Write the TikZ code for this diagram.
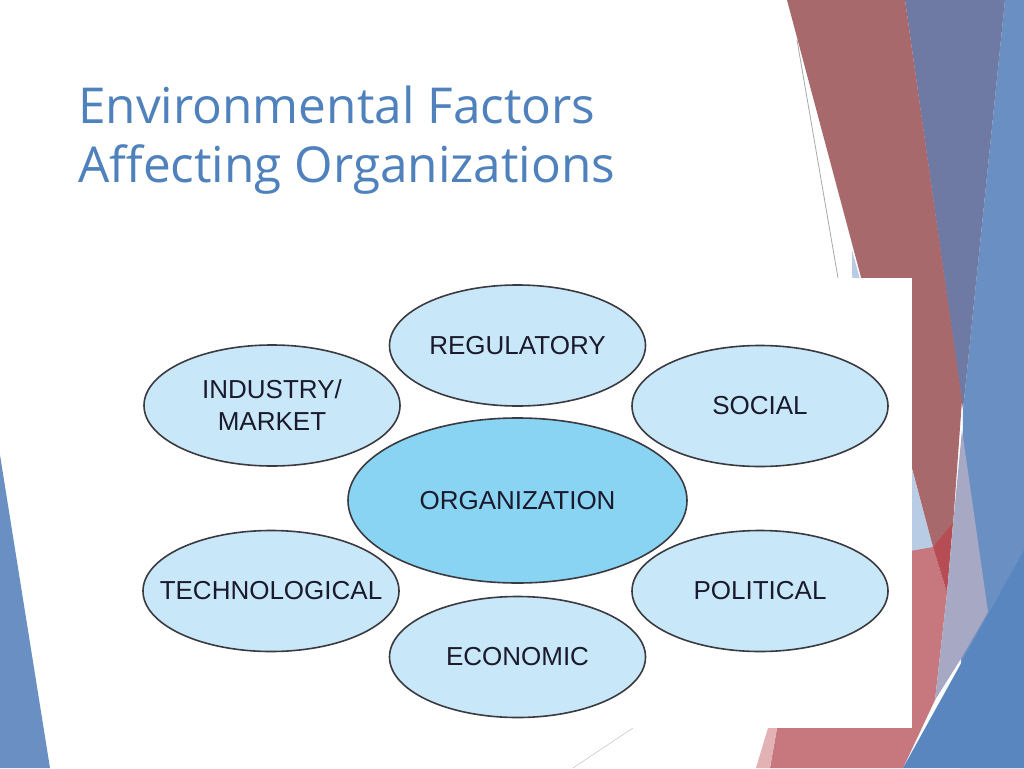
\documentclass[tikz,border=0pt]{standalone}
\usepackage{fontspec}
\setmainfont{Liberation Sans}
\newfontfamily\titlefont{Open Sans}
\usepackage{tikz}
\usetikzlibrary{shapes.geometric}

\definecolor{titleblue}{HTML}{4F81BD}
\definecolor{factorfill}{HTML}{C8E8F9}
\definecolor{corefill}{HTML}{8AD4F3}
\definecolor{ringgrey}{HTML}{3A3A40}
\definecolor{labelink}{HTML}{1A1A2C}
\definecolor{deepred}{HTML}{A8696D}
\definecolor{hotred}{HTML}{B64C54}
\definecolor{pinkred}{HTML}{C6787E}
\definecolor{palepink}{HTML}{E2B2B4}
\definecolor{duskblue}{HTML}{6E7AA4}
\definecolor{slateblue}{HTML}{6A8FC2}
\definecolor{seablue}{HTML}{5A86C0}
\definecolor{haze}{HTML}{A6A8C4}
\definecolor{mist}{HTML}{B9CCE6}
\definecolor{hairline}{HTML}{A8A8A8}

\tikzset{
  factor/.style={ellipse, draw=ringgrey, line width=1.6pt, fill=factorfill,
    minimum width=256pt, minimum height=121pt, inner sep=0pt, align=center,
    text=labelink, font=\fontsize{26}{32}\selectfont},
  core/.style={factor, fill=corefill, minimum width=339pt, minimum height=165pt},
  heading/.style={anchor=base west, inner sep=0pt, text=titleblue,
    font=\titlefont\fontsize{49.5}{59}\selectfont}
}

\begin{document}
\begin{tikzpicture}[x=1pt,y=-1pt]
  \useasboundingbox (0,0) rectangle (1024,768);
  \fill[white] (0,0) rectangle (1024,768);

  % slide decoration, right side
  \fill[mist] (852,250) -- (933,547) -- (913,567) -- (855,567) -- cycle;
  \fill[slateblue] (1005,0) -- (1024,0) -- (1024,768) -- (960,768) -- (963,410) -- cycle;
  \fill[duskblue] (905,0) -- (1005,0) -- (963,410) -- cycle;
  \fill[deepred] (787,0) -- (905,0) -- (962,400) -- (953,525) -- (933,547) -- cycle;
  \fill[pinkred] (860,560) -- (933,547) -- (947,593) -- (935,700) -- (903,768)
    -- (770,768) -- (777,728) -- (860,600) -- cycle;
  \fill[palepink] (777,728) -- (770,768) -- (756,768) -- (768,728) -- cycle;
  \fill[hotred] (933,547) -- (953,523) -- (947,593) -- cycle;
  \fill[haze] (962,430) -- (972,500) -- (988,612) -- (962,657) -- (935,700)
    -- (947,593) -- (953,525) -- cycle;
  \fill[seablue] (903,768) -- (1024,550) -- (1024,768) -- cycle;
  \draw[hairline, line width=0.8pt] (797,40) -- (838,278);

  % slide decoration, left side
  \fill[slateblue] (0,455) -- (50,768) -- (0,768) -- cycle;
  \draw[hairline!60, line width=0.6pt] (633,728) -- (573,768);

  % picture frame
  \fill[white] (125,278) rectangle (912,728);

  \node[heading] (title1) at (78,123) {Environmental Factors};
  \node[heading] (title2) at (78,182) {Affecting Organizations};

  \node[core]   (org)  at (517.5,500.5) {ORGANIZATION};
  \node[factor] (reg)  at (517.5,345.5) {REGULATORY};
  \node[factor] (ind)  at (272,405.5)   {INDUSTRY/\\MARKET};
  \node[factor] (soc)  at (760,406)     {SOCIAL};
  \node[factor, inner xsep=-40pt] (tech) at (271,591) {TECHNOLOGICAL};
  \node[factor] (pol)  at (760,591)     {POLITICAL};
  \node[factor] (eco)  at (517.5,657)   {ECONOMIC};
\end{tikzpicture}
\end{document}
